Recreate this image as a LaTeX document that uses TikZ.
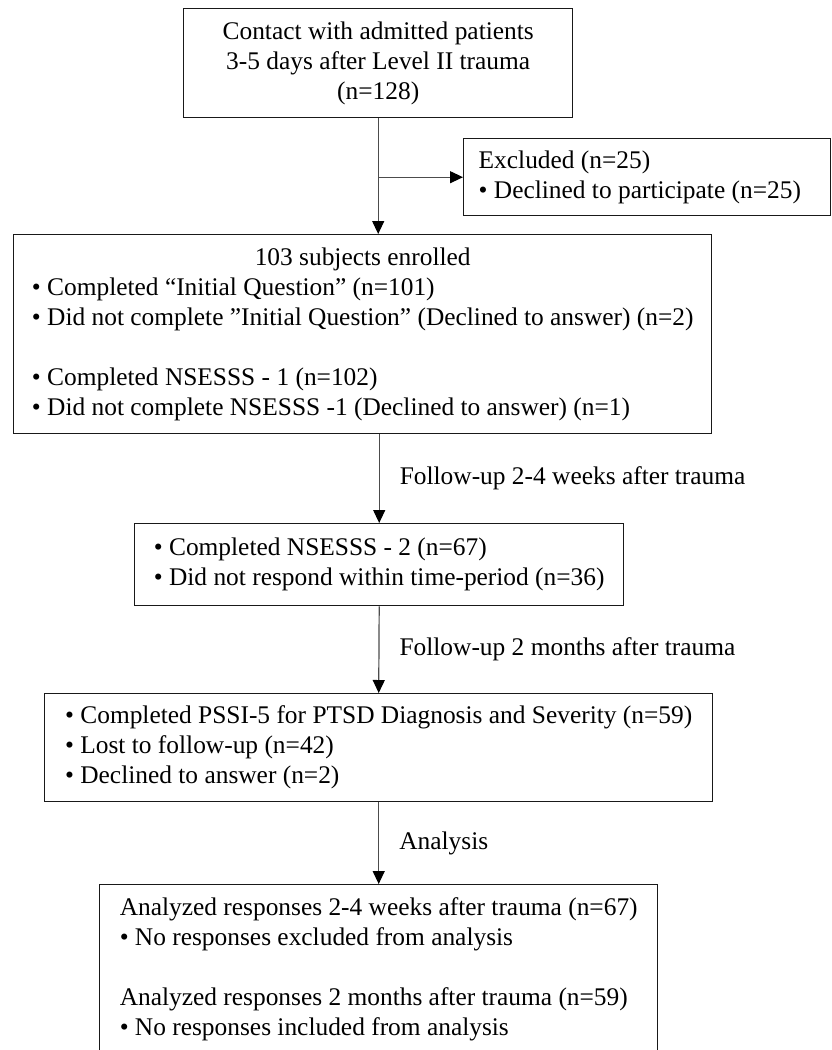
\documentclass[tikz,border=0pt]{standalone}
\usepackage{fontspec}
\setmainfont{Liberation Serif}
\usetikzlibrary{arrows.meta}
\begin{document}
\begin{tikzpicture}[x=1pt,y=-1pt,
  every node/.style={font=\fontsize{25.4}{30}\selectfont},
  box/.style={draw=black!90, line width=1.4pt, anchor=north west, inner sep=0pt},
  conn/.style={draw=black!70, line width=1.2pt, -{Triangle[length=13pt,width=12pt,color=black]}},
  lbl/.style={right=20pt, inner sep=0pt}
]
\useasboundingbox (0,0) rectangle (832,1050);
\clip (0,0) rectangle (832,1050);

\node[box, minimum width=389pt, minimum height=109pt] (top) at (183,8)
  {\begin{tabular}{@{}c@{}}Contact with admitted patients\\3-5 days after Level II trauma\\(n=128)\end{tabular}};

\node[box, minimum width=367pt, minimum height=77pt, inner xsep=15pt] (excl) at (463,138)
  {\makebox[337pt][l]{\begin{tabular}{@{}l@{}}Excluded (n=25)\\• Declined to participate (n=25)\end{tabular}}};

\node[box, minimum width=698pt, minimum height=199pt] (enr) at (13,234)
  {\begin{tabular}{@{}l@{}}\multicolumn{1}{@{}c@{}}{103 subjects enrolled}\\
  • Completed “Initial Question” (n=101)\\
  • Did not complete ”Initial Question” (Declined to answer) (n=2)\\
  \\
  • Completed NSESSS - 1 (n=102)\\
  • Did not complete NSESSS -1 (Declined to answer) (n=1)\end{tabular}};

\node[box, minimum width=489pt, minimum height=82pt] (fu1) at (134,523)
  {\begin{tabular}{@{}l@{}}• Completed NSESSS - 2 (n=67)\\• Did not respond within time-period (n=36)\end{tabular}};

\node[box, minimum width=668pt, minimum height=108pt] (fu2) at (44,693)
  {\begin{tabular}{@{}l@{}}• Completed PSSI-5 for PTSD Diagnosis and Severity (n=59)\\• Lost to follow-up (n=42)\\• Declined to answer (n=2)\end{tabular}};

\node[box, minimum width=558pt, minimum height=169pt] (ana) at (99,884)
  {\begin{tabular}{@{}l@{}}Analyzed responses 2-4 weeks after trauma (n=67)\\
  • No responses excluded from analysis\\
  \\
  Analyzed responses 2 months after trauma (n=59)\\
  • No responses included from analysis\end{tabular}};

\draw[conn] (top.south) -- (top.south |- enr.north);
\draw[conn] (top.south |- excl.west) -- (excl.west);
\draw[conn] (fu1.north |- enr.south) -- node[lbl]{Follow-up 2-4 weeks after trauma} (fu1.north);
\draw[conn] (fu1.south) -- node[lbl]{Follow-up 2 months after trauma} (fu2.north);
\draw[conn] (fu2.south) -- node[lbl]{Analysis} (ana.north);
\end{tikzpicture}
\end{document}
